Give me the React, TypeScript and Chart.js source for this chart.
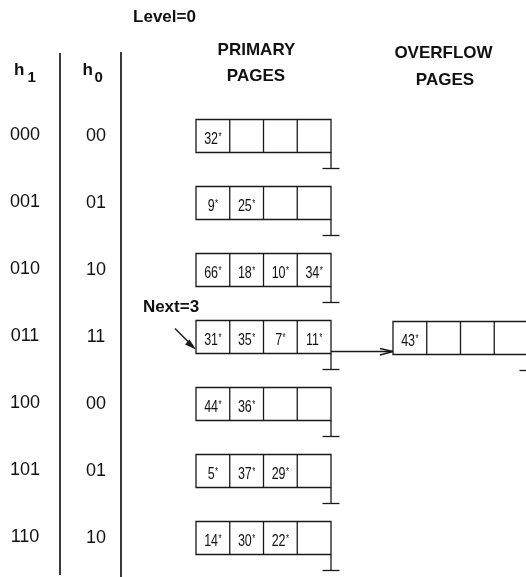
import React, { useEffect, useRef } from 'react';
import { Chart, registerables } from 'chart.js';

Chart.register(...registerables);

// ---- data ----
const levelValue = 0;
const nextValue = 3;
const h1Labels = ['000', '001', '010', '011', '100', '101', '110'];
const h0Labels = ['00', '01', '10', '11', '00', '01', '10'];
const primaryPages: number[][] = [
  [32],
  [9, 25],
  [66, 18, 10, 34],
  [31, 35, 7, 11],
  [44, 36],
  [5, 37, 29],
  [14, 30, 22],
];
const overflowPages: number[][] = [[], [], [], [43], [], [], []];
const pageCapacity = 4;

// ---- layout (diagram units, mapped through chart scales) ----
const W = 526;
const H = 577;
const ROW_TOP0 = 119.5;
const ROW_STEP = 67;
const BOX_H = 33;
const CELL_W = 33.75;
const PRIMARY_X = 196;
const OVERFLOW_X = 393;
const H1_X = 25;
const H0_X = 96;
const COL_LINE1 = 60;
const COL_LINE2 = 121;

const NUM_FONT = '16px "Liberation Sans", Arial, sans-serif';
const NUM_SQUEEZE = 0.78;
const STAR_FONT = '10px "Liberation Sans", Arial, sans-serif';
const HEAD_FONT = 'bold 17px "Liberation Sans", Arial, sans-serif';
const LABEL_FONT = '18px "Liberation Sans", Arial, sans-serif';
const INK = '#1a1a1a';

const diagramPlugin = {
  id: 'diagram',
  beforeDraw(chart: any) {
    const { ctx } = chart;
    ctx.save();
    ctx.fillStyle = '#ffffff';
    ctx.fillRect(0, 0, chart.width, chart.height);
    ctx.restore();
  },
  afterDraw(chart: any) {
    const { ctx } = chart;
    const xs = chart.scales.x;
    const ys = chart.scales.y;
    const px = (v: number) => xs.getPixelForValue(v);
    const py = (v: number) => ys.getPixelForValue(v);

    const line = (x1: number, y1: number, x2: number, y2: number, w = 1.3, c = INK) => {
      ctx.beginPath();
      ctx.strokeStyle = c;
      ctx.lineWidth = w;
      ctx.moveTo(px(x1), py(y1));
      ctx.lineTo(px(x2), py(y2));
      ctx.stroke();
    };
    const text = (s: string, x: number, y: number, font: string, align: CanvasTextAlign = 'center') => {
      ctx.font = font;
      ctx.fillStyle = '#111';
      ctx.textAlign = align;
      ctx.textBaseline = 'alphabetic';
      ctx.fillText(s, px(x), py(y));
    };
    const cellValue = (v: number, cx: number, baseline: number) => {
      const s = String(v);
      ctx.font = NUM_FONT;
      const w1 = ctx.measureText(s).width * NUM_SQUEEZE;
      ctx.font = STAR_FONT;
      const w2 = ctx.measureText('*').width * NUM_SQUEEZE;
      const start = px(cx) - (w1 + w2 + 0.5) / 2;
      ctx.save();
      ctx.fillStyle = '#111';
      ctx.textAlign = 'left';
      ctx.textBaseline = 'alphabetic';
      ctx.translate(start, py(baseline));
      ctx.scale(NUM_SQUEEZE, 1);
      ctx.font = NUM_FONT;
      ctx.fillText(s, 0, 0);
      ctx.font = STAR_FONT;
      ctx.fillText('*', (w1 + 0.5) / NUM_SQUEEZE, -4.5);
      ctx.restore();
    };
    const page = (left: number, top: number, values: number[]) => {
      const right = left + CELL_W * pageCapacity;
      const bottom = top + BOX_H;
      ctx.beginPath();
      ctx.strokeStyle = INK;
      ctx.lineWidth = 1.3;
      ctx.rect(px(left), py(top), px(right) - px(left), py(bottom) - py(top));
      ctx.stroke();
      for (let i = 1; i < pageCapacity; i++) {
        line(left + CELL_W * i, top, left + CELL_W * i, bottom);
      }
      values.forEach((v, i) => cellValue(v, left + CELL_W * (i + 0.5), top + 24.5));
      return { right, bottom };
    };
    const tail = (right: number, bottom: number) => {
      line(right, bottom, right, bottom + 16);
      line(right - 8.5, bottom + 16, right + 8.5, bottom + 16);
    };

    ctx.save();

    // header texts
    text(`Level=${levelValue}`, 164.5, 21.5, HEAD_FONT);
    text('PRIMARY', 256.5, 55, HEAD_FONT);
    text('PAGES', 256, 80.5, HEAD_FONT);
    text('OVERFLOW', 443.5, 58, HEAD_FONT);
    text('PAGES', 445, 85, HEAD_FONT);

    // h1 / h0 headings
    text('h', 14, 75, 'bold 17px "Liberation Sans", Arial, sans-serif', 'left');
    text('1', 27.5, 81.5, 'bold 15px "Liberation Sans", Arial, sans-serif', 'left');
    text('h', 82.5, 75, 'bold 17px "Liberation Sans", Arial, sans-serif', 'left');
    text('0', 94.5, 81.5, 'bold 15px "Liberation Sans", Arial, sans-serif', 'left');

    // column rules
    line(COL_LINE1, 53, COL_LINE1, 575, 2, '#3a3a3a');
    line(COL_LINE2, 52, COL_LINE2, H, 2, '#3a3a3a');

    primaryPages.forEach((vals, r) => {
      const top = ROW_TOP0 + ROW_STEP * r;
      text(h1Labels[r], H1_X, top + 20.5, LABEL_FONT);
      text(h0Labels[r], H0_X, top + 21.5, LABEL_FONT);
      const { right, bottom } = page(PRIMARY_X, top, vals);
      tail(right, bottom);

      if (overflowPages[r] && overflowPages[r].length) {
        const o = page(OVERFLOW_X, top + 1, overflowPages[r]);
        tail(o.right, o.bottom);
        // link arrow
        const ay = bottom - 2;
        line(right, ay, OVERFLOW_X, ay, 1.3);
        line(OVERFLOW_X - 13, ay - 3, OVERFLOW_X, ay, 1.3);
        line(OVERFLOW_X - 13, ay + 3.5, OVERFLOW_X, ay, 1.3);
      }

      if (r === nextValue) {
        text(`Next=${nextValue}`, 171, top - 9, HEAD_FONT);
        // next pointer arrow
        const tx = PRIMARY_X;
        const ty = top + 29;
        line(175, top + 8, tx - 3, ty - 3, 1.5);
        ctx.beginPath();
        ctx.fillStyle = INK;
        ctx.moveTo(px(tx), py(ty));
        ctx.lineTo(px(tx - 11), py(ty - 5));
        ctx.lineTo(px(tx - 6.5), py(ty - 10));
        ctx.closePath();
        ctx.fill();
      }
    });

    ctx.restore();
  },
};

export default function App() {
  const canvasRef = useRef<HTMLCanvasElement | null>(null);

  useEffect(() => {
    document.body.style.margin = '0';
    const canvas = canvasRef.current;
    if (!canvas) return;
    const chart = new Chart(canvas, {
      type: 'scatter',
      data: { datasets: [{ data: [], pointRadius: 0 }] },
      options: {
        animation: false,
        responsive: false,
        devicePixelRatio: 1,
        layout: { padding: 0 },
        plugins: { legend: { display: false }, tooltip: { enabled: false } },
        scales: {
          x: { type: 'linear', min: 0, max: W, display: false },
          y: { type: 'linear', min: 0, max: H, reverse: true, display: false },
        },
      },
      plugins: [diagramPlugin],
    });
    return () => chart.destroy();
  }, []);

  return (
    <div style={{ width: W, height: H }}>
      <canvas ref={canvasRef} width={W} height={H} style={{ display: 'block' }} />
    </div>
  );
}
